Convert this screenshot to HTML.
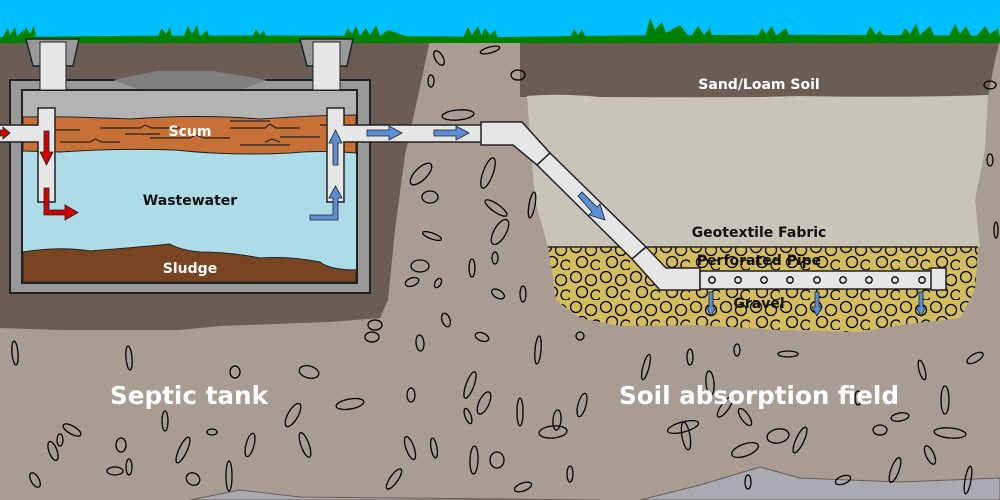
<!DOCTYPE html>
<html><head><meta charset="utf-8"><style>
html,body{margin:0;padding:0;width:1000px;height:500px;overflow:hidden;background:#a99c93}
svg{display:block}
text{font-family:"DejaVu Sans","Liberation Sans",sans-serif;font-weight:bold}
</style></head><body>
<svg width="1000" height="500" viewBox="0 0 1000 500" xmlns="http://www.w3.org/2000/svg">
<defs>
<pattern id="gr" width="30" height="30" patternUnits="userSpaceOnUse">
<circle cx="6" cy="7" r="5.5" fill="none" stroke="#000" stroke-width="1.3"/>
<circle cx="21" cy="10" r="5.5" fill="none" stroke="#000" stroke-width="1.3"/>
<circle cx="12" cy="22" r="5.5" fill="none" stroke="#000" stroke-width="1.3"/>
<circle cx="26" cy="25" r="5" fill="none" stroke="#000" stroke-width="1.3"/>
</pattern>
</defs>
<rect width="1000" height="500" fill="#a99c93"/>
<rect width="1000" height="40" fill="#00bfff"/>
<path d="M190 500 L240 490 L300 497 L600 500 Z" fill="#a9a9b1" stroke="#6b5d53"/>
<path d="M640 500 L700 485 L760 467 L800 478 L900 482 L1000 478 L1000 500 Z" fill="#a9a9b1" stroke="#6b5d53"/>
<path d="M0 40 L430 40 L415 110 L405 155 L395 230 L388 300 L380 318 L330 322 L220 326 L180 330 L60 330 L0 328 Z" fill="#6b5d53"/>
<path d="M520 40 L1000 40 L995 60 L988 97 L520 97 Z" fill="#6b5d53"/>
<path d="M527 96 Q560 93 600 97 Q700 99 800 96 Q900 98 988 95 L985 150 L975 200 L980 247 L548 247 L535 200 Z" fill="#c9c4b8"/>
<path d="M548 247 L978 247 L975 290 L960 318 L900 325 L860 332 L780 330 L700 325 L620 326 L580 318 L556 300 L552 270 Z" fill="#d4bd5f"/>
<path d="M548 247 L978 247 L975 290 L960 318 L900 325 L860 332 L780 330 L700 325 L620 326 L580 318 L556 300 L552 270 Z" fill="url(#gr)"/>
<line x1="548" y1="247" x2="978" y2="247" stroke="#222" stroke-width="1.5"/>
<path d="M0 37 Q250 34 500 37 Q750 33 1000 36 L1000 43 L0 43 Z" fill="#008000"/>
<g fill="#008000">
<path d="M2 38 L8 28 L10 35 L15 27 L17 36 L24 30 L22 39Z"/><path d="M22 38 L26 27 L30 34 L34 26 L36 36Z"/>
<path d="M157 38 L162 28 L166 34 L170 27 L172 37Z"/><path d="M183 38 L188 26 L192 34 L197 25 L200 37 L207 30 L210 39Z"/>
<path d="M252 38 L256 29 L260 35 L264 30 L266 38Z"/>
<path d="M343 38 L348 28 L352 34 L356 26 L360 36 L366 28 L370 35 L376 25 L380 36 L388 30 L412 38Z"/>
<path d="M463 38 L468 27 L472 35 L478 26 L482 37Z"/>
<path d="M480 38 L485 28 L490 35 L495 30 L498 38Z"/><path d="M570 38 L574 29 L578 35 L582 29 L586 38Z"/>
<path d="M645 38 L650 18 L655 30 L662 22 L666 33 L680 25 L690 38Z"/><path d="M690 38 L698 26 L704 35 L710 28 L712 38Z"/>
<path d="M757 38 L762 28 L766 34 L772 26 L776 36 L786 28 L790 38Z"/><path d="M865 38 L870 26 L876 35 L880 30 L884 38Z"/>
<path d="M900 38 L905 28 L910 34 L916 24 L920 35 L930 26 L935 38Z"/><path d="M948 38 L955 24 L960 34 L966 26 L972 38Z"/><path d="M975 38 L985 26 L990 34 L998 28 L1000 38Z"/>
</g>
<g fill="none" stroke="#000" stroke-width="1.3">
<ellipse cx="439" cy="58" rx="4" ry="8" transform="rotate(-30 439 58)"/><ellipse cx="490" cy="50" rx="10" ry="3" transform="rotate(-15 490 50)"/>
<ellipse cx="431" cy="81" rx="3" ry="6"/><ellipse cx="518" cy="75" rx="7" ry="5"/>
<ellipse cx="458" cy="115" rx="16" ry="5" transform="rotate(-5 458 115)"/><ellipse cx="421" cy="174" rx="6" ry="14" transform="rotate(45 421 174)"/>
<ellipse cx="488" cy="173" rx="5" ry="16" transform="rotate(20 488 173)"/><ellipse cx="430" cy="197" rx="8" ry="6"/>
<ellipse cx="496" cy="208" rx="13" ry="4" transform="rotate(35 496 208)"/><ellipse cx="432" cy="236" rx="10" ry="3" transform="rotate(20 432 236)"/>
<ellipse cx="420" cy="266" rx="9" ry="6"/><ellipse cx="472" cy="268" rx="3" ry="9"/><ellipse cx="495" cy="258" rx="3" ry="6"/>
<ellipse cx="532" cy="205" rx="3" ry="13" transform="rotate(10 532 205)"/><ellipse cx="500" cy="232" rx="6" ry="14" transform="rotate(30 500 232)"/>
<ellipse cx="412" cy="282" rx="7" ry="4" transform="rotate(-20 412 282)"/><ellipse cx="446" cy="320" rx="4" ry="7" transform="rotate(-20 446 320)"/>
<ellipse cx="498" cy="294" rx="7" ry="4" transform="rotate(30 498 294)"/><ellipse cx="523" cy="294" rx="3" ry="8"/><ellipse cx="375" cy="325" rx="7" ry="5"/>
<ellipse cx="438" cy="283" rx="3" ry="5" transform="rotate(30 438 283)"/>
<ellipse cx="15" cy="353" rx="3" ry="12" transform="rotate(-5 15 353)"/><ellipse cx="129" cy="358" rx="3" ry="12" transform="rotate(-5 129 358)"/>
<ellipse cx="235" cy="372" rx="5" ry="6"/><ellipse cx="309" cy="372" rx="10" ry="6" transform="rotate(15 309 372)"/>
<ellipse cx="411" cy="395" rx="4" ry="7"/><ellipse cx="293" cy="415" rx="5" ry="13" transform="rotate(30 293 415)"/>
<ellipse cx="53" cy="451" rx="4" ry="10" transform="rotate(-20 53 451)"/><ellipse cx="350" cy="404" rx="14" ry="5" transform="rotate(-10 350 404)"/>
<ellipse cx="372" cy="337" rx="7" ry="5"/><ellipse cx="420" cy="343" rx="4" ry="8" transform="rotate(-5 420 343)"/>
<ellipse cx="470" cy="385" rx="4" ry="14" transform="rotate(20 470 385)"/><ellipse cx="484" cy="403" rx="5" ry="12" transform="rotate(25 484 403)"/>
<ellipse cx="538" cy="350" rx="3" ry="14" transform="rotate(5 538 350)"/><ellipse cx="582" cy="405" rx="4" ry="12" transform="rotate(15 582 405)"/>
<ellipse cx="482" cy="337" rx="7" ry="4" transform="rotate(20 482 337)"/><ellipse cx="468" cy="416" rx="3" ry="8" transform="rotate(-20 468 416)"/>
<ellipse cx="520" cy="412" rx="3" ry="14"/><ellipse cx="557" cy="420" rx="4" ry="10" transform="rotate(5 557 420)"/>
<ellipse cx="553" cy="432" rx="14" ry="6" transform="rotate(-5 553 432)"/><ellipse cx="646" cy="367" rx="3" ry="13" transform="rotate(15 646 367)"/>
<ellipse cx="690" cy="357" rx="3" ry="8"/><ellipse cx="737" cy="350" rx="3" ry="6"/><ellipse cx="788" cy="354" rx="10" ry="3"/>
<ellipse cx="710" cy="383" rx="4" ry="12" transform="rotate(-5 710 383)"/><ellipse cx="686" cy="436" rx="4" ry="14" transform="rotate(-10 686 436)"/>
<ellipse cx="580" cy="336" rx="4" ry="4"/><ellipse cx="60" cy="440" rx="3" ry="6"/><ellipse cx="72" cy="430" rx="10" ry="4" transform="rotate(30 72 430)"/>
<ellipse cx="121" cy="445" rx="5" ry="7"/><ellipse cx="165" cy="421" rx="3" ry="10"/><ellipse cx="183" cy="450" rx="4" ry="14" transform="rotate(25 183 450)"/>
<ellipse cx="212" cy="432" rx="5" ry="3"/><ellipse cx="250" cy="445" rx="4" ry="12" transform="rotate(15 250 445)"/><ellipse cx="305" cy="445" rx="4" ry="13" transform="rotate(-20 305 445)"/>
<ellipse cx="115" cy="471" rx="8" ry="4"/><ellipse cx="193" cy="479" rx="7" ry="6" transform="rotate(30 193 479)"/><ellipse cx="229" cy="476" rx="3" ry="15"/>
<ellipse cx="35" cy="480" rx="4" ry="8" transform="rotate(-30 35 480)"/><ellipse cx="129" cy="467" rx="3" ry="8"/>
<ellipse cx="434" cy="448" rx="3" ry="10" transform="rotate(-10 434 448)"/><ellipse cx="474" cy="460" rx="4" ry="14" transform="rotate(2 474 460)"/>
<ellipse cx="497" cy="460" rx="7" ry="8"/><ellipse cx="523" cy="487" rx="9" ry="4" transform="rotate(-20 523 487)"/>
<ellipse cx="570" cy="474" rx="3" ry="8"/><ellipse cx="683" cy="427" rx="16" ry="5" transform="rotate(-15 683 427)"/>
<ellipse cx="725" cy="407" rx="4" ry="12" transform="rotate(35 725 407)"/><ellipse cx="745" cy="417" rx="4" ry="10" transform="rotate(-35 745 417)"/>
<ellipse cx="778" cy="436" rx="11" ry="7" transform="rotate(-10 778 436)"/><ellipse cx="745" cy="450" rx="14" ry="6" transform="rotate(-20 745 450)"/>
<ellipse cx="748" cy="482" rx="3" ry="7"/><ellipse cx="800" cy="440" rx="4" ry="14" transform="rotate(25 800 440)"/>
<ellipse cx="858" cy="398" rx="3" ry="7"/><ellipse cx="880" cy="430" rx="7" ry="5"/><ellipse cx="900" cy="417" rx="9" ry="4" transform="rotate(-10 900 417)"/>
<ellipse cx="922" cy="370" rx="3" ry="10" transform="rotate(-15 922 370)"/><ellipse cx="945" cy="400" rx="4" ry="14"/><ellipse cx="950" cy="433" rx="16" ry="5" transform="rotate(5 950 433)"/>
<ellipse cx="975" cy="358" rx="9" ry="4" transform="rotate(-30 975 358)"/><ellipse cx="895" cy="470" rx="4" ry="13" transform="rotate(20 895 470)"/>
<ellipse cx="930" cy="455" rx="4" ry="10" transform="rotate(-25 930 455)"/><ellipse cx="968" cy="480" rx="3" ry="14" transform="rotate(10 968 480)"/>
<ellipse cx="843" cy="480" rx="8" ry="4" transform="rotate(-20 843 480)"/><ellipse cx="990" cy="85" rx="6" ry="4"/><ellipse cx="990" cy="160" rx="3" ry="6"/><ellipse cx="996" cy="230" rx="2" ry="8"/>
<ellipse cx="410" cy="448" rx="4" ry="12" transform="rotate(-20 410 448)"/><ellipse cx="394" cy="479" rx="4" ry="12" transform="rotate(35 394 479)"/>
</g>
<rect x="10" y="80" width="360" height="213" fill="#999" stroke="#222" stroke-width="2"/>
<path d="M113 80 L157 71 L213 71 L267 80 L243 89 L137 89 Z" fill="#808080"/>
<rect x="22" y="90" width="335" height="193" fill="#b3b3b3" stroke="#222" stroke-width="2"/>
<rect x="23" y="150" width="333" height="132" fill="#aedbe8"/>
<path d="M23 117 Q60 116 130 119 Q200 114 260 119 Q320 115 356 115 L356 153 Q320 150 290 153 Q230 156 175 150 Q120 148 60 152 L23 151 Z" fill="#c87137" stroke="#222" stroke-width="1"/>
<g stroke="#222" stroke-width="1.2" fill="none">
<path d="M55 130 H80 M100 128 H140 L145 125 L152 128 H180 M150 138 H190 L196 135 L204 138 H230 M230 128 H265 L270 124 L276 128 H300 M60 142 H90 L95 139 L102 142 H120 M240 145 H290 M280 137 H320 M125 134 H160 M265 142 L272 139 L280 142 M230 121 H270 M320 125 H340"/>
</g>
<path d="M23 252 Q60 246 90 251 Q130 248 170 244 Q180 250 200 252 Q230 252 260 258 Q290 256 320 262 Q330 270 356 270 L356 282 L23 282 Z" fill="#784421" stroke="#222" stroke-width="1"/>
<path d="M26 39 L79 39 L73 66 L33 66 Z" fill="#999" stroke="#222" stroke-width="1.5"/>
<rect x="40" y="42" width="26" height="48" fill="#e6e6e6" stroke="#222" stroke-width="1"/>
<path d="M300 39 L353 39 L347 66 L307 66 Z" fill="#999" stroke="#222" stroke-width="1.5"/>
<rect x="313" y="42" width="27" height="48" fill="#e6e6e6" stroke="#222" stroke-width="1"/>
<path d="M0 125 L38 125 L38 108 L55 108 L55 202 L38 202 L38 142 L0 142" fill="#e6e6e6" stroke="#222" stroke-width="1.5"/>
<path d="M482 125 L344 125 L344 108 L327 108 L327 202 L344 202 L344 142 L482 142" fill="#e6e6e6" stroke="#222" stroke-width="1.5"/>
<path d="M481 122 L522 122 L550 153 L537 165 L513 145 L481 145 Z" fill="#e6e6e6" stroke="#222" stroke-width="1.5"/>
<path d="M550 153 L646 247 L632 259 L537 165 Z" fill="#e6e6e6" stroke="#222" stroke-width="1.5"/>
<path d="M646 247 L666 268 L700 268 L700 290 L660 290 L632 259 Z" fill="#e6e6e6" stroke="#222" stroke-width="1.5"/>
<rect x="700" y="271" width="232" height="18" fill="#e6e6e6" stroke="#222" stroke-width="1.5"/>
<rect x="931" y="268" width="15" height="22" fill="#e6e6e6" stroke="#222" stroke-width="1.5"/>
<g fill="none" stroke="#000" stroke-width="1.3">
<circle cx="712" cy="280" r="3.2"/><circle cx="738" cy="280" r="3.2"/><circle cx="764" cy="280" r="3.2"/><circle cx="790" cy="280" r="3.2"/><circle cx="817" cy="280" r="3.2"/><circle cx="843" cy="280" r="3.2"/><circle cx="869" cy="280" r="3.2"/><circle cx="895" cy="280" r="3.2"/><circle cx="922" cy="280" r="3.2"/>
</g>
<g fill="#d40000" stroke="#222" stroke-width="0.8">
<path d="M0 130 L3 130 L3 127 L10 133 L3 139 L3 136 L0 136 Z"/>
<path d="M44 131 L49 131 L49 152 L53 152 L46.5 165 L40 152 L44 152 Z"/>
<path d="M44 188 L49 188 L49 210 L65 210 L65 205 L78 212.5 L65 220 L65 215 L44 215 Z"/>
</g>
<g fill="#5a8fd6" stroke="#222" stroke-width="0.8">
<path d="M333 165 L333 143 L329 143 L335.5 130 L342 143 L338 143 L338 165 Z"/>
<path d="M310 220 L310 215 L333 215 L333 198 L329 198 L335.5 186 L342 198 L338 198 L338 220 Z"/>
<path d="M367 130 L389 130 L389 126 L402 133 L389 140 L389 136 L367 136 Z"/>
<path d="M434 130 L456 130 L456 126 L469 133 L456 140 L456 136 L434 136 Z"/>
<path d="M578 196 L582 192 L597 207 L600 204 L605 220 L589 215 L592 212 Z"/>
<path d="M709 292 L713 292 L713 307 L716 307 L711 316 L706 307 L709 307 Z"/>
<path d="M815 292 L819 292 L819 307 L822 307 L817 316 L812 307 L815 307 Z"/>
<path d="M919 292 L923 292 L923 307 L926 307 L921 316 L916 307 L919 307 Z"/>
</g>
<text x="190" y="136" font-size="14" fill="#fff" text-anchor="middle">Scum</text>
<text x="190" y="205" font-size="14" fill="#111" text-anchor="middle">Wastewater</text>
<text x="190" y="273" font-size="14" fill="#fff" text-anchor="middle">Sludge</text>
<text x="759" y="89" font-size="14" fill="#fff" text-anchor="middle">Sand/Loam Soil</text>
<text x="759" y="237" font-size="14" fill="#111" text-anchor="middle">Geotextile Fabric</text>
<text x="759" y="265" font-size="14" fill="#111" text-anchor="middle">Perforated Pipe</text>
<text x="759" y="308" font-size="14" fill="#111" text-anchor="middle">Gravel</text>
<text x="110" y="404" font-size="25" fill="#fff" textLength="158" lengthAdjust="spacingAndGlyphs">Septic tank</text>
<text x="619" y="404" font-size="25" fill="#fff" textLength="280" lengthAdjust="spacingAndGlyphs">Soil absorption field</text>
</svg>
</body></html>
